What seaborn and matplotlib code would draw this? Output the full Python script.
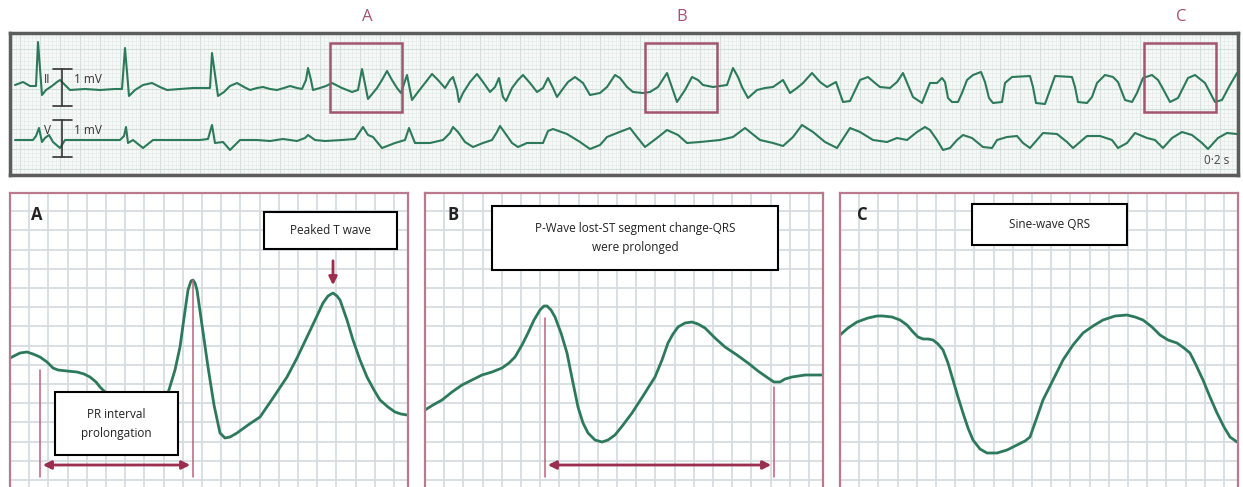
import matplotlib
matplotlib.use("Agg")
import matplotlib.pyplot as plt
from matplotlib.patches import Rectangle
from matplotlib.ticker import MultipleLocator
import seaborn as sns

sns.set_theme(style="white")
plt.rcParams['font.family'] = ['Open Sans', 'DejaVu Sans']

# ---------------- data ----------------
# rhythm strip, lead II: time (px) / amplitude (px above baseline)
lead2_t = [15, 23, 30, 36, 38, 42, 46, 52, 57, 60, 64, 70, 85, 100, 115, 122, 125, 129, 135, 143,
           152, 160, 167, 180, 193, 205, 210, 212, 218, 224, 230, 237, 244, 250, 257, 263, 270, 277,
           284, 290, 297, 302, 306, 308, 311, 313, 320, 326, 332, 342, 352, 358, 362, 368, 377, 382,
           387, 392, 397, 401, 407, 412, 418,
           425, 432, 438, 445, 450, 453, 457, 459, 463, 470, 477, 483, 490, 495, 499, 503, 506, 512,
           518, 523, 530, 537, 543, 548, 553, 557, 562, 568, 575, 583, 590, 600, 607, 615, 620, 627,
           633, 643,
           650, 658, 667, 677, 685, 692, 698, 703, 713, 727, 733, 738, 742, 748, 757, 765, 773, 783,
           790, 797, 803, 812, 820, 827, 836, 843, 850, 860, 868, 875, 880, 890, 897, 903, 908, 913,
           922,
           930, 937, 942, 945, 948, 952, 958, 962, 967, 973, 981, 985, 989, 993, 1002, 1005, 1012,
           1030, 1033, 1036, 1045, 1050, 1055, 1072, 1075, 1078, 1087, 1092, 1097, 1105, 1113, 1118,
           1125, 1132, 1137, 1143,
           1152, 1158, 1162, 1170, 1178, 1188, 1195, 1205, 1215, 1222, 1230, 1237]
lead2_mv = [4, 7, 3, 3, 47, -6, -1, 3, 7, 9, 5, -1, 0, -1, 0, 0, 41, -7, -1, 4,
            6, 2, -1, 0, 1, 1, 1, 36, -7, -3, 3, 6, 2, -1, 1, 2, 0, -1,
            1, 3, 1, 0, 9, 21, 9, -1, 1, 3, 6, 1, -3, -1, 20, -10, 1, 9,
            18, 9, 1, -4, 14, -11, -3,
            6, 15, 9, 1, 9, 12, -1, -13, -4, 7, 15, 7, -3, 2, 11, -8, -12, 1,
            9, 14, 6, -3, 1, 11, 1, -8, -1, 7, 12, 6, -6, -4, 2, 14, 11, 2,
            -3, -4,
            -3, 2, 16, -13, -1, 12, 9, 4, 2, 4, 21, 12, 2, -9, -1, 1, 2, 9,
            -4, 1, 6, 16, 7, 2, 7, -13, -12, 9, 12, 6, 2, 1, 7, 16, 4, -8,
            -14,
            6, 6, 11, 7, -9, -13, -13, -4, 9, 14, 17, 7, -9, -14, -13, 6, 12,
            13, 2, -14, -15, -1, 13, 12, 2, -13, -14, -8, 6, 14, 12, 7,
            -11, -13, -4, 11,
            14, 9, 2, -13, -9, 11, 14, 6, -13, -11, 4, 16]

# rhythm strip, lead V
leadv_t = [15, 33, 36, 39, 42, 45, 49, 53, 60, 65, 80, 100, 120, 124, 126, 128, 133, 143, 153, 175,
           200, 208, 212, 215, 223, 230, 240, 257, 270, 283, 297, 305, 308, 315, 325, 342, 355, 363,
           368, 373, 382, 395, 405, 409, 415,
           430, 443, 450, 453, 458, 465, 473, 483, 492, 497, 500, 505, 512, 518, 527, 543, 548, 553,
           567, 580, 590, 600, 607, 617, 630, 637,
           645, 657, 667, 678, 687, 700, 720, 733, 745, 760, 773, 783, 793, 802, 813, 825, 837, 850,
           860, 873, 887, 897, 907, 917, 925,
           930, 937, 943, 950, 957, 963, 972, 983, 992, 997, 1007, 1017, 1023, 1030, 1037, 1043,
           1057, 1067, 1073, 1080, 1087, 1100, 1112, 1118, 1127, 1135, 1147,
           1155, 1163, 1172, 1182, 1192, 1202, 1208, 1218, 1227, 1237]
leadv_mv = [0, 0, 4, 12, -2, 2, 5, -2, -8, 0, 0, 0, 0, 4, 13, -3, 0, -8, 0, 0,
            0, 1, 15, -3, -2, -10, 0, 0, -1, 1, -1, 2, 5, 0, -1, 0, 1, 13,
            5, 3, -8, -3, 0, 12, -3,
            -3, 0, 7, 13, 8, -2, -7, -3, 0, 8, 14, 7, -3, -7, -3, -3, 9, 11,
            6, -2, -9, -5, 3, 7, 12, 3,
            -7, 2, 10, 5, -3, -2, 0, 3, 12, 0, -3, -6, 3, 15, 8, -2, -8, 12,
            8, 0, -2, 2, 0, 8, 13,
            10, 0, -10, -8, 0, 5, 2, -7, -8, 0, 3, 4, -3, -8, 0, 7,
            6, -2, -8, -2, 4, 4, 0, -8, -3, 7, 2,
            0, -8, 2, 8, 5, -3, -9, 2, 7, 6]

# zoomed complexes: time (px from panel edge) / amplitude (px)
a_t = [0, 2, 10, 17, 23, 30, 37, 43, 48, 57, 67, 74, 80, 86, 90, 95, 120, 150, 158, 165, 170, 174,
       178, 181, 183, 185, 187, 192, 198, 204, 210, 215, 220, 227, 238, 250, 263, 277, 287, 297,
       306, 313, 318, 323, 327, 330, 337, 343, 350, 357, 364, 370, 378, 385, 391, 397]
a_mv = [122, 123, 127, 128, 126, 123, 118, 112, 110, 109, 108, 106, 103, 98, 93, 88, 82, 82, 87, 110,
        133, 162, 190, 199, 200, 197, 190, 155, 113, 75, 47, 42, 43, 47, 55, 63, 82, 103, 122, 143,
        162, 177, 184, 187, 184, 180, 160, 140, 120, 103, 90, 80, 73, 68, 66, 65]

b_t = [0, 8, 17, 27, 37, 47, 57, 67, 77, 84, 90, 97, 103, 109, 115, 119, 122, 126, 130, 136, 142,
       147, 153, 158, 163, 170, 177, 183, 190, 198, 207, 218, 230, 237, 243, 248, 253, 260, 267,
       273, 280, 290, 300, 312, 323, 333, 343, 349, 355, 360, 367, 380, 397]
b_mv = [70, 75, 80, 88, 95, 100, 105, 108, 112, 117, 123, 135, 147, 160, 170, 174, 174, 170, 163, 147,
        127, 102, 73, 57, 47, 40, 38, 40, 45, 55, 67, 84, 103, 120, 137, 146, 153, 157, 158,
        156, 152, 142, 133, 125, 117, 109, 102, 98, 98, 101, 103, 105, 105]

c_t = [0, 8, 17, 28, 37, 43, 52, 60, 67, 73, 78, 83, 88, 93, 98, 103, 108, 113, 118, 123, 128, 133,
       140, 147, 157, 167, 177, 185, 190, 196, 203, 213, 223, 233, 243, 253, 263, 275, 287, 295,
       303, 312, 320, 328, 337, 344, 350, 356, 363, 370, 377, 384, 390, 397]
c_mv = [145, 152, 158, 162, 164, 164, 163, 160, 155, 148, 143, 141, 141, 140, 136, 130, 117, 100, 83,
        67, 52, 40, 31, 27, 27, 30, 35, 39, 43, 60, 80, 100, 120, 135, 147, 154, 160, 164, 165, 163,
        160, 153, 145, 140, 137, 132, 127, 115, 100, 83, 67, 53, 43, 38]

strip_labels = ['A', 'B', 'C']
panel_notes = ['Peaked T wave', 'P-Wave lost-ST segment change-QRS\nwere prolonged', 'Sine-wave QRS']
pr_note = 'PR interval\nprolongation'

# ---------------- styling ----------------
W, H = 1243, 487
TRACE = '#2c7a5b'
MAROON = '#a3546e'
ARROW = '#9b2d4f'
PANEL_EDGE = '#b97a8d'

fig = plt.figure(figsize=(W / 100, H / 100), dpi=100)
fig.patch.set_facecolor('white')


def px_axes(left, top, right, bottom):
    return fig.add_axes([left / W, 1 - bottom / H, (right - left) / W, (bottom - top) / H])


# ---- rhythm strip ----
ax = px_axes(10, 33, 1238, 175)
ax.set_facecolor('#f6f9f8')
ax.set_xlim(10, 1238)
ax.set_ylim(-86, 56)
ax.xaxis.set_major_locator(MultipleLocator(20))
ax.xaxis.set_minor_locator(MultipleLocator(4))
ax.yaxis.set_major_locator(MultipleLocator(20))
ax.yaxis.set_minor_locator(MultipleLocator(4))
ax.grid(True, which='major', color='#d2ded9', lw=0.8)
ax.grid(True, which='minor', color='#e4ece8', lw=0.5)
ax.tick_params(which='both', length=0, labelbottom=False, labelleft=False)
ax.set_axisbelow(True)
for s in ax.spines.values():
    s.set_color('#5c5c5c')
    s.set_linewidth(2.5)

v_offset = -51
sns.lineplot(x=lead2_t, y=lead2_mv, ax=ax, color=TRACE, lw=1.5, sort=False, estimator=None)
sns.lineplot(x=leadv_t, y=[v + v_offset for v in leadv_mv], ax=ax, color=TRACE, lw=1.5,
             sort=False, estimator=None)

# calibration marks
for base, lead in [(0, 'II'), (v_offset, 'V')]:
    ax.plot([62, 62], [base + 20, base - 17], color='#333333', lw=1.2)
    ax.plot([53, 72], [base + 20, base + 20], color='#333333', lw=1.2)
    ax.plot([53, 72], [base - 17, base - 17], color='#333333', lw=1.2)
    ax.text(47, base + 10, lead, fontsize=8.5, color='#333333', ha='center', va='center')
    ax.text(74, base + 10, '1 mV', fontsize=8.5, color='#333333', ha='left', va='center')
ax.text(1217, -71, '0·2 s', fontsize=8.5, color='#444444', ha='center', va='center')

for x0, lab in zip([330, 645, 1144], strip_labels):
    ax.add_patch(Rectangle((x0, -23), 72, 69, fill=False, edgecolor=MAROON, lw=1.8, zorder=4))
    fig.text((x0 + 37) / W, 1 - 17 / H, lab, ha='center', va='center', color=MAROON, fontsize=12)

# ---- zoomed panels ----
panels = []
for left in [10, 425, 840]:
    p = px_axes(left, 193, left + 398, 487)
    p.set_xlim(0, 398)
    p.set_ylim(-7, 287)
    p.set_facecolor('white')
    p.xaxis.set_major_locator(MultipleLocator(19.2))
    p.yaxis.set_major_locator(MultipleLocator(19.2))
    p.grid(True, color='#d5dce1', lw=1.3)
    p.tick_params(length=0, labelbottom=False, labelleft=False)
    p.set_axisbelow(True)
    for name, s in p.spines.items():
        s.set_color(PANEL_EDGE)
        s.set_linewidth(1.6)
    p.spines['bottom'].set_visible(False)
    panels.append(p)

for p, tt, mv in zip(panels, [a_t, b_t, c_t], [a_mv, b_mv, c_mv]):
    sns.lineplot(x=tt, y=mv, ax=p, color=TRACE, lw=2.0, sort=False, estimator=None)

for p, lab, x in zip(panels, strip_labels, [27, 28, 22]):
    p.text(x, 265, lab, fontsize=12, fontweight='bold', color='#222222', ha='center', va='center')


def note_box(p, x0, y0, x1, y1, text):
    p.add_patch(Rectangle((x0, y0), x1 - x0, y1 - y0, facecolor='white', edgecolor='black',
                          lw=1.5, zorder=5))
    p.text((x0 + x1) / 2, (y0 + y1) / 2, text, ha='center', va='center', fontsize=8.5,
           color='#222222', zorder=6, linespacing=1.6)


def interval(p, x0, top0, x1, top1):
    p.plot([x0, x0], [3, top0], color='#c0607f', lw=1.1, zorder=3)
    p.plot([x1, x1], [3, top1], color='#c0607f', lw=1.1, zorder=3)
    p.annotate('', xy=(x1, 15), xytext=(x0, 15),
               arrowprops=dict(arrowstyle='<|-|>', color=ARROW, lw=2, mutation_scale=12))


pa, pb, pc = panels
note_box(pa, 45, 25, 168, 88, pr_note)
interval(pa, 30, 110, 183, 200)
note_box(pa, 254, 231, 387, 268, panel_notes[0])
pa.annotate('', xy=(323, 192), xytext=(323, 222),
            arrowprops=dict(arrowstyle='-|>', color=ARROW, lw=2, mutation_scale=12))

note_box(pb, 67, 210, 353, 274, panel_notes[1])
interval(pb, 120, 162, 349, 93)

note_box(pc, 132, 235, 287, 276, panel_notes[2])

fig.savefig('out.png', dpi=100)
